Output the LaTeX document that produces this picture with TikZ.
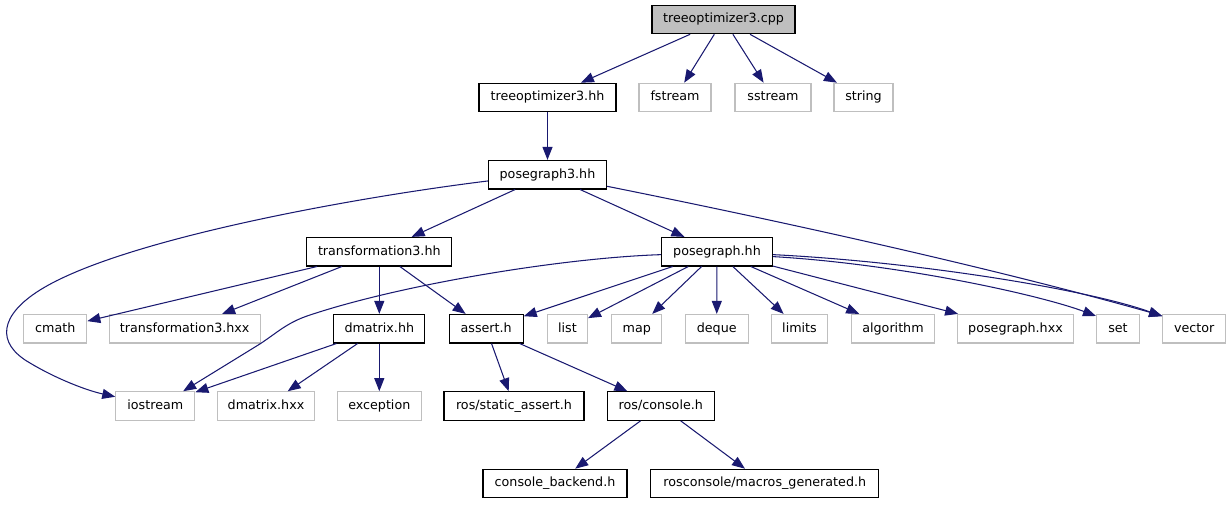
\documentclass[tikz,border=0pt]{standalone}
\usepackage{fontspec}
\setmainfont{DejaVu Sans}
\usetikzlibrary{arrows.meta}
\definecolor{edgeblue}{HTML}{191970}
\definecolor{lightgray}{HTML}{BFBFBF}
\begin{document}
\begin{tikzpicture}[x=1pt,y=-1pt,
  box/.style={draw=black, line width=1.1pt, minimum height=28.5pt, inner sep=0pt,
    text height=9.4pt, text depth=2.7pt, font=\fontsize{12.7}{15}\selectfont},
  ext/.style={box, draw=lightgray},
  rootbox/.style={box, fill=lightgray},
  dep/.style={draw=edgeblue, line width=1.05pt, -{Triangle[length=13pt,width=10pt]}}
]
\useasboundingbox (0,0) rectangle (1230,504);

% row 0
\node[rootbox, minimum width=143pt] (cpp) at (723.5,19.5) {treeoptimizer3.cpp};
% row 1
\node[box, minimum width=137pt] (t3hh) at (547.5,97.5) {treeoptimizer3.hh};
\node[ext, minimum width=72pt] (fstream) at (675,97.5) {fstream};
\node[ext, minimum width=76pt] (sstream) at (773,97.5) {sstream};
\node[ext, minimum width=59pt] (string) at (863.5,97.5) {string};
% row 2
\node[box, minimum width=118pt] (pg3) at (547.5,174.7) {posegraph3.hh};
% row 3
\node[box, minimum width=145pt] (tr3) at (379.3,251.7) {transformation3.hh};
\node[box, minimum width=111pt] (pg) at (717,251.7) {posegraph.hh};
% row 4
\node[ext, minimum width=63pt] (cmath) at (55.3,328.7) {cmath};
\node[ext, minimum width=151pt] (tr3hxx) at (184.7,328.7) {transformation3.hxx};
\node[box, minimum width=91pt] (dmhh) at (379.3,328.7) {dmatrix.hh};
\node[box, minimum width=74pt] (assert) at (486.2,328.7) {assert.h};
\node[ext, minimum width=40pt] (list) at (567.5,328.7) {list};
\node[ext, minimum width=50pt] (map) at (636.8,328.7) {map};
\node[ext, minimum width=63pt] (deque) at (716.7,328.7) {deque};
\node[ext, minimum width=56pt] (limits) at (799.5,328.7) {limits};
\node[ext, minimum width=83pt] (algorithm) at (893,328.7) {algorithm};
\node[ext, minimum width=116pt] (pghxx) at (1015.5,328.7) {posegraph.hxx};
\node[ext, minimum width=43pt] (set) at (1118,328.7) {set};
\node[ext, minimum width=63pt] (vector) at (1194.2,328.7) {vector};
% row 5
\node[ext, minimum width=79pt] (iostream) at (155.3,406) {iostream};
\node[ext, minimum width=97pt] (dmhxx) at (266,406) {dmatrix.hxx};
\node[ext, minimum width=84pt] (exception) at (379.3,406) {exception};
\node[box, minimum width=140pt] (rsa) at (514,406) {ros/static\_assert.h};
\node[box, minimum width=107pt] (rcon) at (660.8,406) {ros/console.h};
% row 6
\node[box, minimum width=144pt] (cback) at (555,483.5) {console\_backend.h};
\node[box, minimum width=228pt] (macros) at (764.8,483.5) {rosconsole/macros\_generated.h};

% edges from treeoptimizer3.cpp
\draw[dep] (cpp) -- (t3hh);
\draw[dep] (cpp) -- (fstream);
\draw[dep] (cpp) -- (sstream);
\draw[dep] (cpp) -- (string);
\draw[dep] (t3hh) -- (pg3);
% posegraph3.hh
\draw[dep] (pg3) -- (tr3);
\draw[dep] (pg3) -- (pg);
\draw[dep] (pg3.-11) .. controls (800,225) and (1000,270) .. (vector.158);
\draw[dep] (pg3.186) .. controls (350,198) and (120,240) .. (40,290)
  .. controls (0,315) and (-5,343) .. (30,363)
  .. controls (55,378) and (85,390) .. (iostream.167);
% transformation3.hh
\draw[dep] (tr3) -- (cmath);
\draw[dep] (tr3) -- (tr3hxx);
\draw[dep] (tr3) -- (dmhh);
\draw[dep] (tr3) -- (assert);
% posegraph.hh
\draw[dep] (pg.183) .. controls (560,258) and (400,285) .. (310,315)
  .. controls (285,323) and (275,335) .. (255,347) -- (iostream.28);
\draw[dep] (pg) -- (assert);
\draw[dep] (pg) -- (list);
\draw[dep] (pg) -- (map);
\draw[dep] (pg) -- (deque);
\draw[dep] (pg) -- (limits);
\draw[dep] (pg) -- (algorithm);
\draw[dep] (pg) -- (pghxx);
\draw[dep] (pg.-5) .. controls (900,264) and (1040,295) .. (set.150);
\draw[dep] (pg.-3) .. controls (920,262) and (1090,290) .. (vector.159);
% dmatrix.hh
\draw[dep] (dmhh) -- (iostream);
\draw[dep] (dmhh) -- (dmhxx);
\draw[dep] (dmhh) -- (exception);
% assert.h
\draw[dep] (assert) -- (rsa);
\draw[dep] (assert) -- (rcon);
% ros/console.h
\draw[dep] (rcon) -- (cback);
\draw[dep] (rcon) -- (macros);
\end{tikzpicture}
\end{document}
